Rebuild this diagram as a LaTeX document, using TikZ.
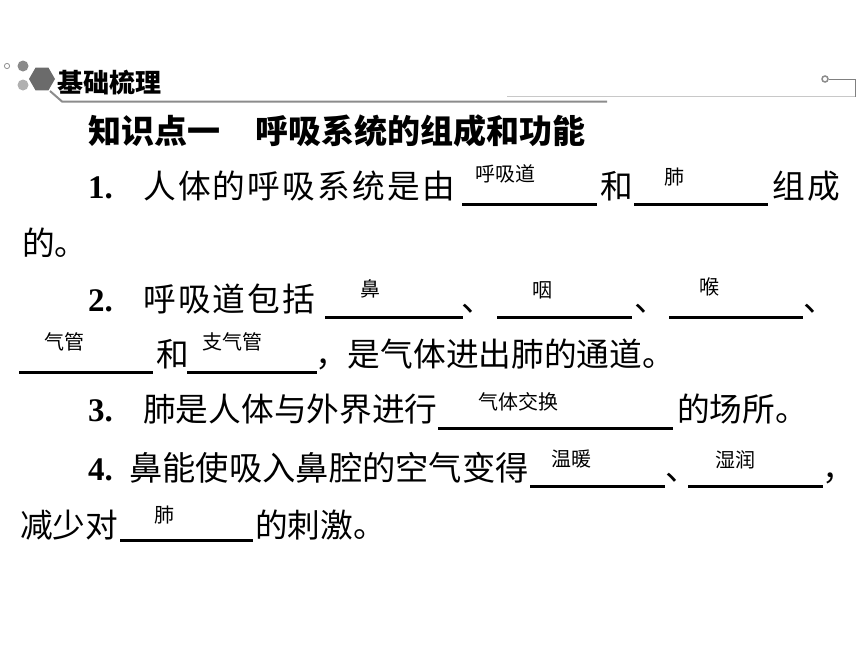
\documentclass[tikz,border=0pt]{standalone}
\usepackage{fontspec}
\newfontfamily\cjk{Noto Sans CJK SC}
\newfontfamily\cjksp{Noto Sans CJK SC}[LetterSpace=6.7]
\newfontfamily\numfont{Liberation Serif}
\definecolor{hexgray}{HTML}{6B6B6B}
\definecolor{dotgray}{HTML}{8A8A8A}
\definecolor{lightdot}{HTML}{B0B0B0}
\definecolor{rulegray}{HTML}{8C8C8C}
\definecolor{rulelight}{HTML}{C8C8C8}
\tikzset{
    txt/.style={anchor=base west, inner sep=0pt, font=\cjk\fontsize{32.7}{36}\selectfont},
    txtsp/.style={txt, font=\cjksp\fontsize{32.7}{36}\selectfont},
    head/.style={txt, font=\cjk\bfseries\fontsize{33}{36}\selectfont},
    num/.style={anchor=base west, inner sep=0pt, font=\numfont\bfseries\fontsize{33}{36}\selectfont},
    ans/.style={inner sep=0pt, font=\cjk\fontsize{20}{24}\selectfont},
    blank/.style={line width=3pt},
}
\begin{document}
\begin{tikzpicture}[x=1pt, y=-1pt]
        \useasboundingbox (0,0) rectangle (860,645);

        % Header bar
        \draw[rulegray, line width=0.8pt] (7,66) circle (2.6);
        \fill[dotgray] (23,66) circle (5.5);
        \fill[lightdot] (23,85) circle (5.5);
        \fill[hexgray] (42,79) +(0:13) -- +(60:13) -- +(120:13) -- +(180:13) -- +(240:13) -- +(300:13) -- cycle;
        \draw[rulegray, line width=2pt] (50,91) -- (62,101.5) -- (607,101.5);
        \draw[rulelight, line width=1.5pt] (507,96.7) -- (855,96.7);
        \draw[gray, line width=0.8pt] (855,96.7) -- (855,79) -- (829,79);
        \draw[rulegray, line width=1.5pt, fill=white] (825,79) circle (3);
        \node[txt, font=\cjk\bfseries\fontsize{26}{30}\selectfont] (title) at (57,92) {基础梳理};

        % Heading
        \node[head] (h1) at (88,143.5) {知识点一};
        \node[head] (h2) at (255,143.5) {呼吸系统的组成和功能};

        % Item 1
        \node[num] (n1) at (88,198) {1.};
        \node[txtsp] (t1a) at (143,198) {人体的呼吸系统是由};
        \draw[blank] (462,204) -- (597,204);
        \node[txt] (t1b) at (600,198) {和};
        \draw[blank] (634,204) -- (768,204);
        \node[txtsp] (t1c) at (772,198) {组成};
        \node[txt] (t1d) at (22,255) {的。};
        \node[ans] (a1) at (505,174) {呼吸道};
        \node[ans] (a2) at (674,177) {肺};

        % Item 2
        \node[num] (n2) at (88,311) {2.};
        \node[txtsp] (t2a) at (143,311) {呼吸道包括};
        \draw[blank] (325,317) -- (463,317);
        \node[txt] (t2b) at (461,311) {、};
        \draw[blank] (497,317) -- (632,317);
        \node[txt] (t2c) at (634,311) {、};
        \draw[blank] (669,317) -- (803,317);
        \node[txt] (t2d) at (803,311) {、};
        \draw[blank] (19,372) -- (153,372);
        \node[txt] (t2e) at (156,366) {和};
        \draw[blank] (187,372) -- (317,372);
        \node[txt] (t2f) at (315,366) {，是气体进出肺的通道。};
        \node[ans] (a3) at (370,289) {鼻};
        \node[ans] (a4) at (542,290) {咽};
        \node[ans] (a5) at (709,287) {喉};
        \node[ans] (a6) at (65,342) {气管};
        \node[ans] (a7) at (232,342) {支气管};

        % Item 3
        \node[num] (n3) at (88,421) {3.};
        \node[txt] (t3a) at (143,421) {肺是人体与外界进行};
        \draw[blank] (438,428) -- (673,428);
        \node[txt] (t3b) at (677,421) {的场所。};
        \node[ans] (a8) at (518,402) {气体交换};

        % Item 4
        \node[num] (n4) at (88,480) {4.};
        \node[txt, font=\cjk\fontsize{33.3}{36}\selectfont] (t4a) at (129,480) {鼻能使吸入鼻腔的空气变得};
        \draw[blank] (530,486) -- (665,486);
        \node[txt] (t4b) at (665,480) {、};
        \draw[blank] (688,486) -- (823,486);
        \node[txt] (t4c) at (822,480) {，};
        \node[txt] (t4d) at (20,537) {减少对};
        \draw[blank] (120,540) -- (253,540);
        \node[txt] (t4e) at (255,537) {的刺激。};
        \node[ans] (a9) at (571,459) {温暖};
        \node[ans] (a10) at (735,460) {湿润};
        \node[ans] (a11) at (164,515) {肺};
    \end{tikzpicture}
\end{document}
